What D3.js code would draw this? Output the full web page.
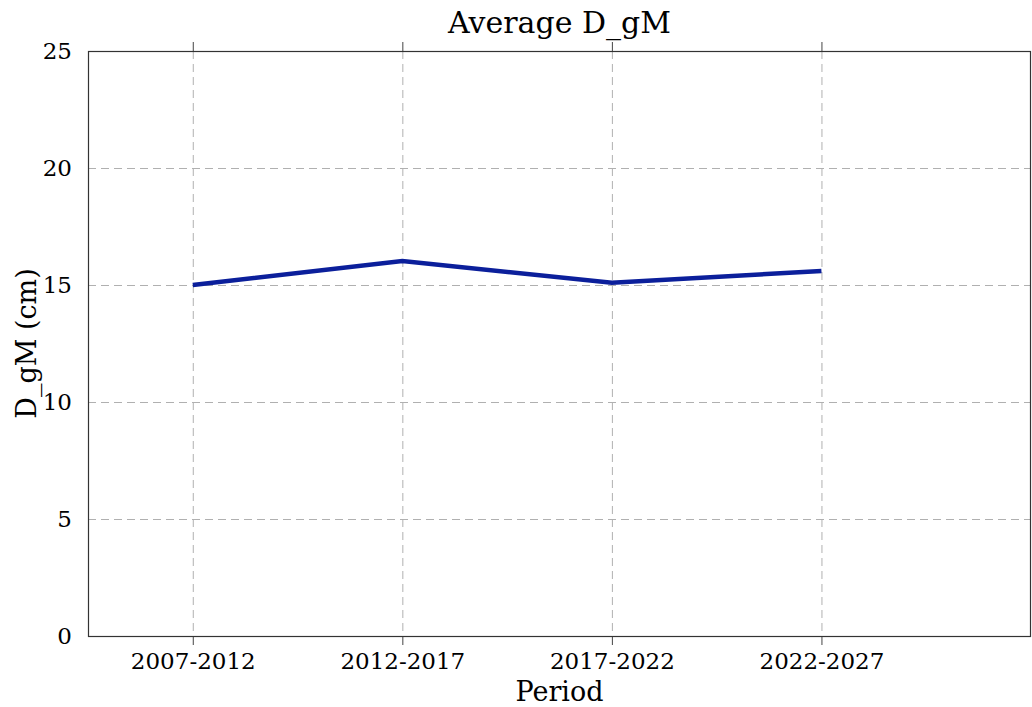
<!DOCTYPE html>
<html>
<head>
<meta charset="utf-8">
<script src="https://cdn.jsdelivr.net/npm/d3@7"></script>
<style>
  body { margin: 0; background: #fff; }
  svg text { font-family: "DejaVu Serif", serif; fill: #000; }
</style>
</head>
<body>
<svg class="chart" width="1032" height="707"></svg>
<script>
const periods = ["2007-2012", "2012-2017", "2017-2022", "2022-2027"];
const dgmValues = [15.0, 16.02, 15.1, 15.6];
const yTicks = [0, 5, 10, 15, 20, 25];

const svg = d3.select("svg.chart"),
    margin = {top: 51, right: 1, bottom: 71, left: 88},
    width = +svg.attr("width"),
    height = +svg.attr("height");

const x = d3.scaleLinear()
    .domain([-0.5, 4])
    .range([margin.left, width - margin.right]);
const y = d3.scaleLinear()
    .domain([0, 25])
    .range([height - margin.bottom, margin.top]);

const plotTop = margin.top, plotBottom = height - margin.bottom;

// grid
const grid = svg.append("g")
    .attr("stroke", "#b0b0b0")
    .attr("stroke-width", 1)
    .attr("stroke-dasharray", "8,5");
grid.selectAll("line.gx").data(periods).enter().append("line")
    .attr("x1", (d, i) => x(i) + 0.5).attr("x2", (d, i) => x(i) + 0.5)
    .attr("y1", plotTop).attr("y2", plotBottom);
grid.selectAll("line.gy").data(yTicks.slice(1, -1)).enter().append("line")
    .attr("x1", margin.left).attr("x2", width - margin.right)
    .attr("y1", d => y(d) + 0.5).attr("y2", d => y(d) + 0.5);

// x ticks, outward at top and bottom
svg.append("g")
    .attr("transform", "translate(0," + plotBottom + ")")
    .call(d3.axisBottom(x).tickValues(d3.range(periods.length))
        .tickFormat(i => periods[i]).tickSizeInner(9).tickSizeOuter(0).tickPadding(8))
    .call(g => g.select(".domain").remove())
    .call(g => g.selectAll("text").style("font-size", "23px").attr("font-family", null))
    .call(g => g.selectAll("line").attr("stroke", "#444"));

svg.append("g")
    .attr("transform", "translate(0," + plotTop + ")")
    .call(d3.axisTop(x).tickValues(d3.range(periods.length))
        .tickFormat("").tickSizeInner(9).tickSizeOuter(0))
    .call(g => g.select(".domain").remove())
    .call(g => g.selectAll("line").attr("stroke", "#444"));

// y axis labels
svg.append("g")
    .attr("transform", "translate(" + margin.left + ",0)")
    .call(d3.axisLeft(y).tickValues(yTicks).tickSize(0).tickPadding(16))
    .call(g => g.select(".domain").remove())
    .call(g => g.selectAll("text").style("font-size", "23px").attr("font-family", null));

// frame
svg.append("rect")
    .attr("x", margin.left + 0.5).attr("y", plotTop + 0.5)
    .attr("width", width - margin.right - margin.left - 1)
    .attr("height", plotBottom - plotTop)
    .attr("fill", "none").attr("stroke", "#333").attr("stroke-width", 1.2);

// line
const line = d3.line()
    .x((d, i) => x(i))
    .y(d => y(d));
svg.append("path")
    .datum(dgmValues)
    .attr("d", line)
    .attr("fill", "none")
    .attr("stroke", "#0b1f9b")
    .attr("stroke-width", 4.5);

// titles
svg.append("text")
    .attr("x", (margin.left + width - margin.right) / 2)
    .attr("y", 33)
    .attr("text-anchor", "middle")
    .style("font-size", "30px")
    .text("Average D_gM");

svg.append("text")
    .attr("x", (margin.left + width - margin.right) / 2)
    .attr("y", 701)
    .attr("text-anchor", "middle")
    .style("font-size", "27px")
    .text("Period");

svg.append("text")
    .attr("transform", "translate(36," + (plotTop + plotBottom) / 2 + ") rotate(-90)")
    .attr("text-anchor", "middle")
    .style("font-size", "27px")
    .text("D_gM (cm)");
</script>
</body>
</html>
